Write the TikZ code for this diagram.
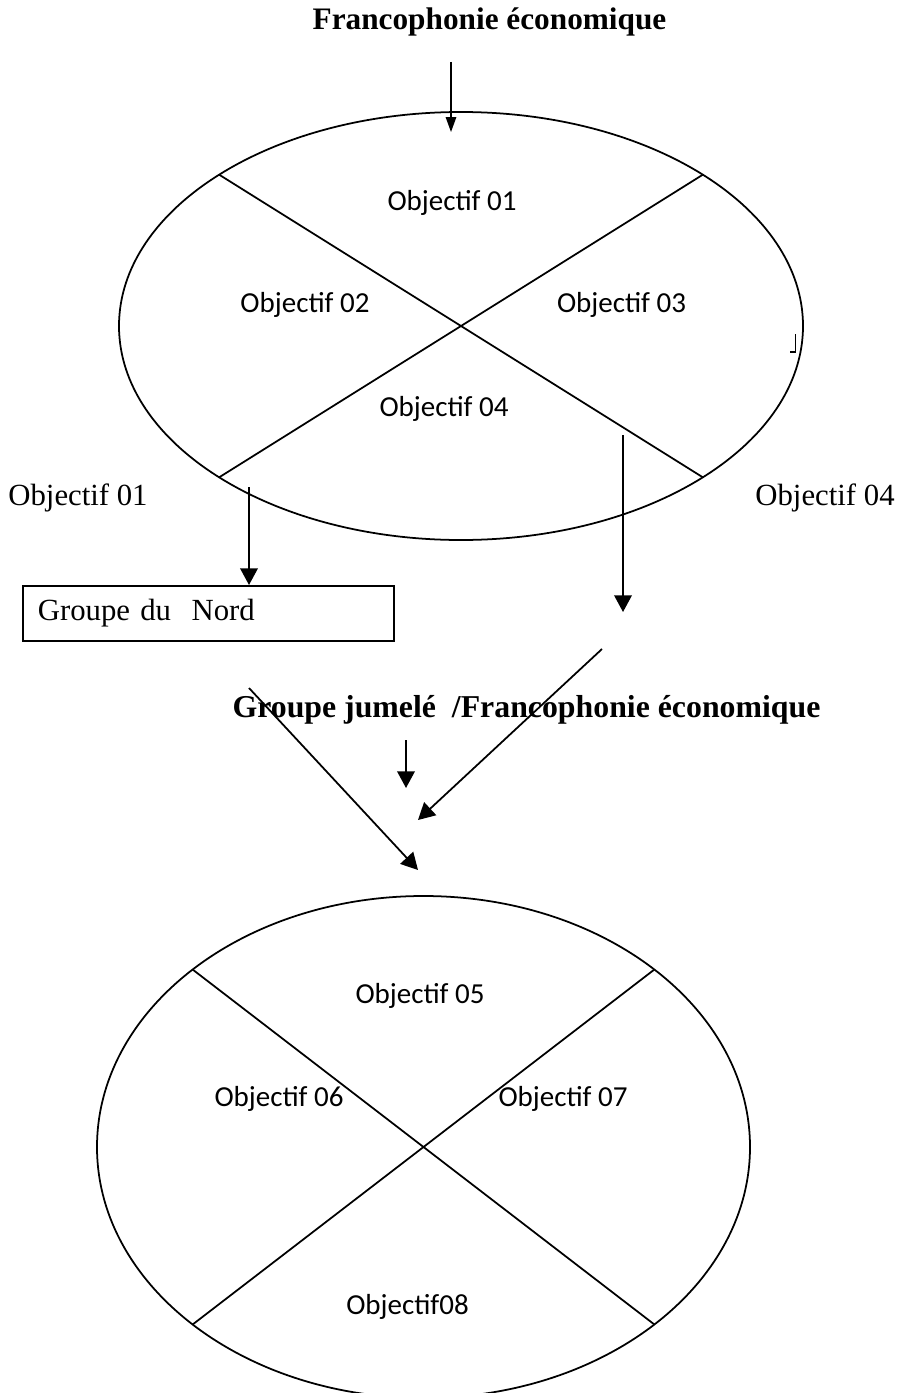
\documentclass[tikz,border=0pt]{standalone}
\usepackage{fontspec}
\setmainfont{Liberation Serif}
\newfontfamily\calibri{Carlito}
\usepackage{tikz}
\usetikzlibrary{arrows.meta}
\tikzset{
  trait/.style={line width=1pt},
  fleche/.style={line width=1pt,-{Triangle[width=10pt,length=9.5pt]}},
  obj/.style={font=\calibri\fontsize{16.5}{20}\selectfont},
  lab/.style={font=\fontsize{17.5}{21}\selectfont},
  titre/.style={font=\bfseries\fontsize{17.8}{21}\selectfont}
}

\begin{document}
\begin{tikzpicture}
\useasboundingbox (0,0) rectangle (17.96,-27.86);
\node[titre] (titreA) at (9.79,-0.44) {Francophonie économique};
\coordinate (hautA) at (9.02,-1.24);
\coordinate (basA) at (9.02,-2.64);
\draw[line width=0.7pt,-{Triangle[width=6pt,length=8.5pt]}] (hautA) -- (basA);

\coordinate (cA) at (9.22,-6.52);
\draw[trait] (cA) ellipse [x radius=6.84, y radius=4.28];
\path (cA) +(45:6.84 and 4.28) coordinate (cAne) +(135:6.84 and 4.28) coordinate (cAno)
  +(225:6.84 and 4.28) coordinate (cAso) +(315:6.84 and 4.28) coordinate (cAse);
\draw[trait] (cAno) -- (cAse);
\draw[trait] (cAne) -- (cAso);
\node[obj] (o1) at (9.04,-4.05) {Objectif 01};
\node[obj] (o2) at (6.10,-6.10) {Objectif 02};
\node[obj] (o3) at (12.43,-6.10) {Objectif 03};
\node[obj] (o4) at (8.88,-8.17) {Objectif 04};
\draw[line width=0.7pt] (15.91,-6.68) -- (15.91,-7.04) -- (15.80,-7.04);

\node[lab] (g1) at (1.56,-9.96) {Objectif 01};
\node[lab] (g4) at (16.50,-9.96) {Objectif 04};

\node[lab,draw,trait,anchor=north west,minimum height=1.1cm,text width=6.82cm,
  inner xsep=0.3cm,align=left] (nord) at (0.44,-11.70) {Groupe du\ \ Nord};
\coordinate (dG) at (4.98,-9.74);
\draw[fleche] (dG) -- (dG |- nord.north);

\coordinate (dD) at (12.46,-8.70);
\coordinate (fD) at (12.46,-12.24);
\draw[fleche] (dD) -- (fD);

\node[titre,font=\bfseries\fontsize{18.1}{21}\selectfont] (titreB) at (10.53,-14.20)
  {Groupe jumelé\ \ /Francophonie économique};
\coordinate (dx1) at (12.04,-12.98);
\coordinate (fx1) at (8.36,-16.40);
\draw[fleche] (dx1) -- (fx1);
\coordinate (dx2) at (4.98,-13.76);
\coordinate (fx2) at (8.36,-17.40);
\draw[fleche] (dx2) -- (fx2);
\coordinate (dx3) at (8.12,-14.80);
\coordinate (fx3) at (8.12,-15.76);
\draw[fleche] (dx3) -- (fx3);

\coordinate (cB) at (8.47,-22.94);
\draw[trait] (cB) ellipse [x radius=6.53, y radius=5.02];
\path (cB) +(45:6.53 and 5.02) coordinate (cBne) +(135:6.53 and 5.02) coordinate (cBno)
  +(225:6.53 and 5.02) coordinate (cBso) +(315:6.53 and 5.02) coordinate (cBse);
\draw[trait] (cBno) -- (cBse);
\draw[trait] (cBne) -- (cBso);
\node[obj] (o5) at (8.40,-19.92) {Objectif 05};
\node[obj] (o6) at (5.58,-21.98) {Objectif 06};
\node[obj] (o7) at (11.26,-21.98) {Objectif 07};
\node[obj] (o8) at (8.15,-26.14) {Objectif08};
\end{tikzpicture}
\end{document}
